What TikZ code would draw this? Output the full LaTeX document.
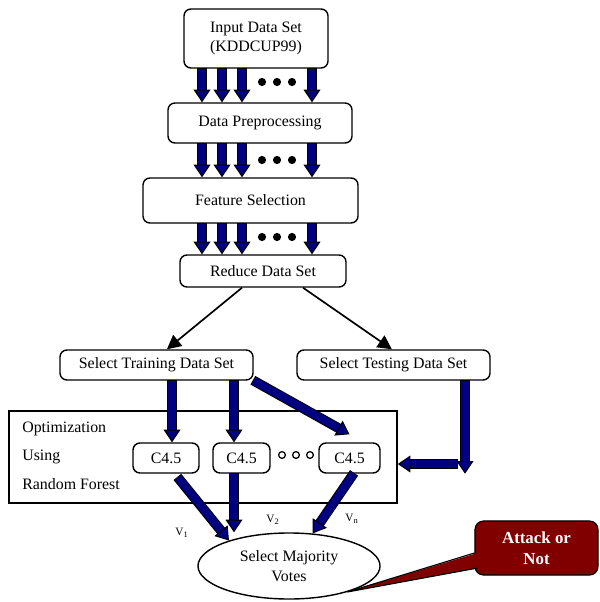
\documentclass[tikz,border=0pt]{standalone}
\usepackage{fontspec}
\setmainfont{Liberation Serif}
\usepackage{tikz}
\usetikzlibrary{calc}
\usetikzlibrary{arrows.meta}
\usetikzlibrary{shapes}
\usetikzlibrary{shapes.geometric}
\definecolor{arrowblue}{RGB}{0,0,128}
\definecolor{calloutred}{RGB}{128,0,0}
\tikzset{>=latex}
\tikzstyle{box} = [draw = black, line width = 1pt, rounded corners = 5pt, align = center, inner sep = 1, font = \fontsize{11.3}{14}\selectfont]
\tikzstyle{fat} = [draw = arrowblue, line width = 5.6pt, -{Triangle[width = 12pt, length = 9pt, fill = arrowblue, color = black, line width = 0.7pt]}, preaction = {draw = black, -, line width = 7pt, shorten > = 8pt, shorten < = -0.7pt}]
\tikzstyle{link} = [draw = black, line width = 1.2pt, -{Triangle[width = 10pt, length = 10pt]}]

\begin{document}
\begin{tikzpicture}[x = 0.025cm, y = -0.025cm]
\useasboundingbox (0, 0) rectangle (599, 602);
% boxes
\node [box, minimum width = 3.6cm, minimum height = 1.475cm] (input) at (256, 38.5) {Input Data Set\\(KDDCUP99)};
\node [box, minimum width = 4.6cm, minimum height = 1.0cm] (prep) at (260, 123) {Data Preprocessing};
\node [box, minimum width = 5.375cm, minimum height = 1.125cm] (feat) at (250.5, 200.5) {Feature Selection};
\node [box, minimum width = 4.15cm, minimum height = 0.8cm] (reduce) at (263, 271) {Reduce Data Set};
\node [box, minimum width = 4.825cm, minimum height = 0.75cm] (train) at (156.5, 365) {Select Training Data Set};
\node [box, minimum width = 4.825cm, minimum height = 0.75cm] (test) at (393.5, 365) {Select Testing Data Set};
\node [draw = black, line width = 1pt, inner sep = 0, minimum width = 9.7cm, minimum height = 2.3cm] (frame) at (203, 457) {};
\node [anchor = west, inner sep = 0, font = \fontsize{11.3}{14}\selectfont] (opt) at (22, 429) {Optimization};
\node [anchor = west, inner sep = 0, font = \fontsize{11.3}{14}\selectfont] (using) at (22, 457) {Using};
\node [anchor = west, inner sep = 0, font = \fontsize{11.3}{14}\selectfont] (rf) at (22, 484) {Random Forest};
\node [box, minimum width = 1.65cm, minimum height = 0.75cm] (c1) at (166, 458) {C4.5};
\node [box, minimum width = 1.425cm, minimum height = 0.75cm] (c2) at (241.5, 458) {C4.5};
\node [box, minimum width = 1.525cm, minimum height = 0.75cm] (c3) at (349.5, 458) {C4.5};
\node [draw = black, line width = 1pt, ellipse, align = center, inner sep = 0, minimum width = 4.55cm, minimum height = 1.65cm, font = \fontsize{11.3}{14}\selectfont] (votes) at (289, 566) {Select Majority\\Votes};
\node [draw = black, line width = 0.8pt, fill = calloutred, rounded corners = 6pt, align = center, inner sep = 1, minimum width = 3.075cm, minimum height = 1.35cm, text = white, font = \fontsize{12}{15}\selectfont\bfseries] (attack) at (536.5, 548) {Attack or\\Not};
\node [font = \fontsize{8}{9}\selectfont] (v1) at (182, 533) {V\textsubscript{1}};
\node [font = \fontsize{8}{9}\selectfont] (v2) at (273, 520) {V\textsubscript{2}};
\node [font = \fontsize{8}{9}\selectfont] (vn) at (352, 519) {V\textsubscript{n}};
% fat arrows between the top boxes
\foreach \x [count = \i] in {202, 222, 242, 312} {
  \coordinate (t\i) at (\x, 0);
  \draw [fat] (t\i |- input.south) -- (t\i |- prep.north);
  \draw [fat] (t\i |- prep.south) -- (t\i |- feat.north);
  \draw [fat] (t\i |- feat.south) -- (t\i |- reduce.north);
}
\foreach \y in {82, 160, 237}
  \foreach \x in {262, 277, 292}
    \fill [black] (\x, \y) circle (2.9pt);
\foreach \x in {282, 296, 310}
  \draw [line width = 0.9pt] (\x, 455) circle (2.4pt);
% split
\draw [link] ([xshift = -0.525cm]reduce.south) -- ([xshift = 0.26cm]train.north);
\draw [link] ([xshift = 1.0cm]reduce.south) -- ([xshift = -0.04cm]test.north);
% into the forest
\coordinate (col1) at (172, 0);
\coordinate (col2) at (234, 0);
\coordinate (col3) at (465, 0);
\coordinate (row) at (0, 464);
\draw [fat] (col1 |- train.south) -- (col1 |- c1.north);
\draw [fat] (col2 |- train.south) -- (col2 |- c2.north);
\draw [fat] (train.south east) -- ([yshift = 0.2cm]c3.north);
\draw [fat] (col3 |- test.south) -- (col3 |- c3.south);
\draw [fat] ($(col3 |- row) + (-8, 0)$) -- (frame.east |- row);
% votes
\draw [fat] ([xshift = 0.3cm, yshift = -0.1cm]c1.south) -- (votes.157);
\draw [fat] (col2 |- c2.south) -- (col2 |- votes.north);
\draw [fat] ([xshift = 0.1cm]c3.south) -- (votes.54);
% callout pointer
\fill [calloutred] ($(attack.west) + (3, 5)$) -- (votes.-24) -- ($(attack.west) + (5, 20)$) -- cycle;
\draw [line width = 0.8pt] ($(attack.west) + (0, 5)$) -- (votes.-24) -- ($(attack.west) + (3, 20)$);
\end{tikzpicture}
\end{document}
